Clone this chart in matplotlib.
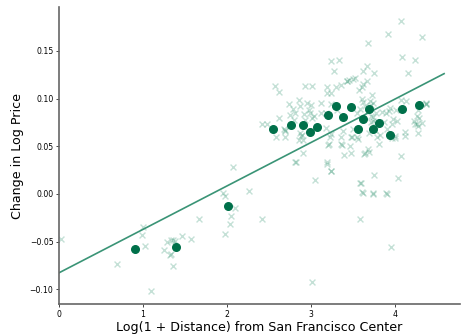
import numpy as np
import matplotlib.pyplot as plt

# individual listings: log distance vs change in log price
dist_x = [0.02, 0.69, 1.00, 0.99, 1.02, 1.10, 1.25, 1.29, 1.33, 1.36, 1.32, 1.33, 1.35, 1.38,
          1.46, 1.57, 1.67, 2.07, 1.95, 1.98, 2.09, 2.04, 2.03, 1.97, 2.26, 2.42, 3.01, 3.58,
          3.95, 4.37, 4.26, 4.23, 4.32, 4.27, 4.12, 3.96, 4.00, 3.92, 3.82, 3.69, 3.56, 3.73,
          3.77, 3.71, 3.64, 3.69, 4.07, 3.75, 4.03, 3.59, 3.60, 3.74, 3.90, 2.42, 2.47, 2.58,
          2.67, 2.69, 2.62, 2.75, 2.79, 2.87, 2.90, 2.89, 2.90, 2.81, 2.99, 3.01, 3.05, 3.19,
          3.23, 3.21, 3.35, 3.35, 3.39, 3.47, 3.47, 3.46, 2.57, 2.62, 2.92, 3.01, 3.23, 3.33,
          3.27, 3.19, 3.23, 3.30, 3.35, 3.43, 3.50, 2.95, 3.00, 3.12, 4.07, 3.91, 4.32, 3.68,
          4.08, 4.23, 4.15, 3.62, 3.66, 3.75, 3.52, 3.60, 3.57, 3.72, 3.60, 3.70, 4.07, 4.37,
          2.73, 2.78, 2.81, 2.85, 2.97, 3.03, 2.91, 2.93, 2.86, 2.88, 2.87, 2.69, 2.69, 3.11,
          3.17, 3.19, 3.23, 3.31, 3.18, 3.24, 3.22, 3.38, 3.20, 3.37, 3.48, 3.55, 3.50, 3.42,
          3.45, 3.55, 3.58, 3.61, 3.66, 3.62, 3.64, 3.71, 3.73, 3.71, 3.74, 3.77, 3.76, 3.78,
          3.81, 3.68, 3.84, 3.89, 3.94, 4.01, 3.97, 4.02, 3.87, 3.90, 3.96, 4.00, 4.11, 4.13,
          4.22, 4.26, 4.28, 4.27, 4.36, 4.27, 3.19, 3.23, 3.63, 3.58, 3.61, 3.73, 3.89, 2.82]
price_y = [-0.047, -0.073, -0.035, -0.043, -0.055, -0.102, -0.059, -0.050, -0.048, -0.048,
           -0.064, -0.063, -0.076, -0.049, -0.044, -0.047, -0.026, 0.028, 0.001, -0.002,
           -0.015, -0.023, -0.031, -0.042, 0.003, -0.026, -0.092, -0.026, -0.056, 0.094,
           0.082, 0.0735, 0.074, 0.064, 0.065, 0.0735, 0.061, 0.087, 0.062, 0.064, 0.058,
           0.077, 0.085, 0.093, 0.043, 0.044, 0.040, 0.020, 0.017, 0.012, 0.002, 0.000,
           0.000, 0.0735, 0.0735, 0.060, 0.068, 0.060, 0.0795, 0.0826, 0.078, 0.092, 0.057,
           0.062, 0.043, 0.034, 0.085, 0.0795, 0.0147, 0.033, 0.0245, 0.052, 0.052, 0.060,
           0.0405, 0.043, 0.060, 0.050, 0.1127, 0.107, 0.113, 0.113, 0.139, 0.140, 0.129,
           0.112, 0.106, 0.112, 0.114, 0.118, 0.121, 0.095, 0.093, 0.085, 0.181, 0.168,
           0.165, 0.158, 0.1435, 0.141, 0.127, 0.129, 0.1345, 0.127, 0.122, 0.112, 0.1085,
           0.104, 0.100, 0.097, 0.099, 0.095, 0.094, 0.089, 0.085, 0.099, 0.088, 0.082,
           0.084, 0.078, 0.057, 0.061, 0.064, 0.067, 0.0665, 0.095, 0.085, 0.106, 0.094,
           0.088, 0.069, 0.063, 0.0595, 0.0665, 0.051, 0.051, 0.0595, 0.0595, 0.068, 0.118,
           0.120, 0.085, 0.089, 0.115, 0.118, 0.0966, 0.092, 0.082, 0.095, 0.075, 0.081,
           0.074, 0.067, 0.0595, 0.052, 0.047, 0.086, 0.085, 0.090, 0.088, 0.079, 0.076,
           0.075, 0.0686, 0.059, 0.059, 0.061, 0.097, 0.076, 0.0735, 0.080, 0.071, 0.0945,
           0.088, 0.0315, 0.0245, 0.042, 0.011, 0.0014, 0.0007, 0.0007, 0.033]

# binned means
bin_x = [0.90, 1.39, 2.01, 2.54, 2.76, 2.90, 2.98, 3.07, 3.20, 3.29, 3.38, 3.47, 3.56, 3.61,
         3.69, 3.74, 3.81, 3.94, 4.08, 4.28]
bin_y = [-0.058, -0.0553, -0.0123, 0.0686, 0.072, 0.0718, 0.0648, 0.0704, 0.083, 0.0924,
         0.0809, 0.0911, 0.068, 0.0785, 0.0896, 0.0686, 0.0742, 0.062, 0.0886, 0.0928]

# fitted line
intercept = -0.0827
slope = 0.0456
line_x = [0.0, 4.58]

fig = plt.figure(figsize=(4.61, 3.36), dpi=100)
ax = fig.add_axes([0.128, 0.095, 0.87, 0.884])

ax.scatter(dist_x, price_y, marker='x', s=18, color='#3d9a78', alpha=0.3, linewidths=1.0)
ax.scatter(bin_x, bin_y, s=30, color='#00704a', zorder=3)
lx = np.array(line_x)
ax.plot(lx, intercept + slope * lx, color='#3a9476', linewidth=1.2, zorder=2)

ax.set_xlim(0, 4.77)
ax.set_ylim(-0.1155, 0.196)
ax.set_xticks([0, 1, 2, 3, 4])
ax.set_yticks([-0.10, -0.05, 0.00, 0.05, 0.10, 0.15])
ax.set_yticklabels(['\u22120.10', '\u22120.05', '0.00', '0.05', '0.10', '0.15'])

for side in ['top', 'right']:
    ax.spines[side].set_visible(False)
for side in ['left', 'bottom']:
    ax.spines[side].set_color('#666666')
    ax.spines[side].set_linewidth(1.2)
ax.tick_params(labelsize=5.6, length=2, width=0.7, color='#444444', pad=2)

ax.set_xlabel('Log(1 + Distance) from San Francisco Center', fontsize=9.1, labelpad=2)
ax.set_ylabel('Change in Log Price', fontsize=9.1, labelpad=4)

fig.savefig('out.png', dpi=100)
